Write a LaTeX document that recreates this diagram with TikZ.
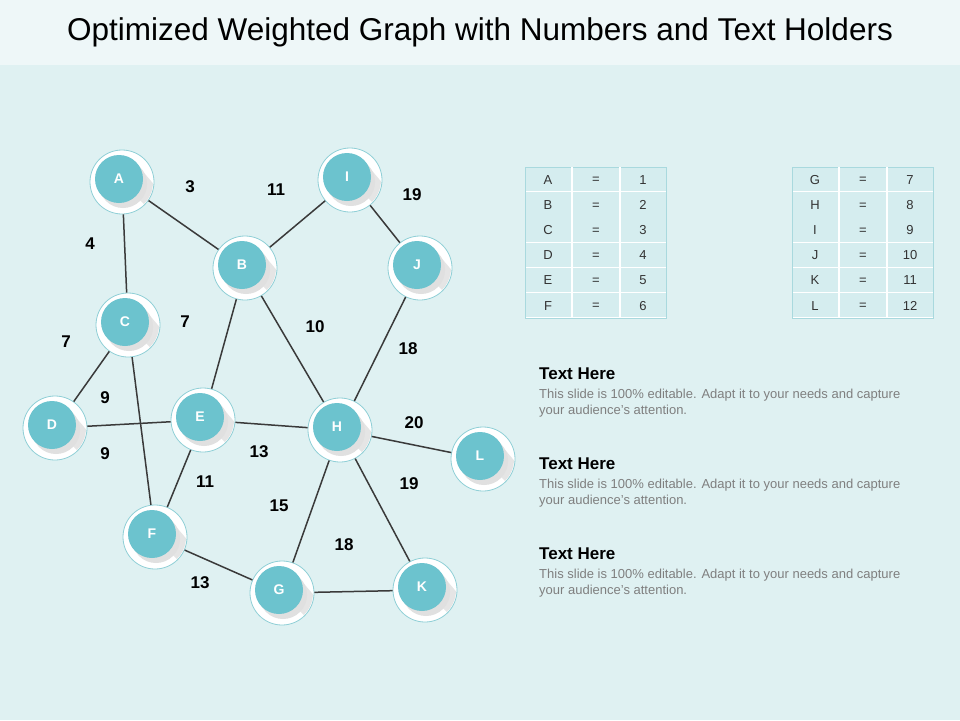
\documentclass[tikz,border=0pt]{standalone}
\usepackage{fontspec}
\setmainfont{Liberation Sans}
\definecolor{bg}{HTML}{DFF1F2}
\definecolor{titlebg}{HTML}{EEF7F8}
\definecolor{teal}{HTML}{6CC3CE}
\definecolor{ring}{HTML}{8FCFD6}
\definecolor{edge}{HTML}{3A3A3A}
\definecolor{tline}{HTML}{A9D9DE}
\definecolor{tfill}{HTML}{D5EDEF}
\definecolor{gtext}{HTML}{7F7F7F}
\begin{document}
\begin{tikzpicture}[x=1pt,y=-1pt,
  vert/.style={circle,draw=ring,fill=white,line width=0.8pt,minimum size=64pt,inner sep=0pt},
  lab/.style={font=\bfseries\fontsize{14}{16}\selectfont,text=white},
  wt/.style={font=\bfseries\fontsize{17}{19}\selectfont},
  con/.style={draw=edge,line width=1.5pt},
  cell/.style={font=\fontsize{13}{15}\selectfont,text=black!80}]
\fill[bg] (0,0) rectangle (960,720);
\fill[titlebg] (0,0) rectangle (960,65);
\node[font=\fontsize{31.5}{35}\selectfont] (title) at (480,32) {Optimized Weighted Graph with Numbers and Text Holders};
\foreach \n/\x/\y in {A/122/182,I/350/180,B/245/268,J/420/268,C/128/325,D/55/428,E/203/420,H/340/430,L/483/459,F/155/537,G/282/593,K/425/590}{
  \node[vert] (\n) at (\x,\y) {};
}
\foreach \a/\b in {A/B,A/C,B/I,I/J,B/E,B/H,J/H,C/D,C/F,D/E,E/H,H/L,E/F,H/G,H/K,F/G,G/K}{
  \draw[con] (\a) -- (\b);
}
\foreach \n/\x/\y in {A/122/182,I/350/180,B/245/268,J/420/268,C/128/325,D/55/428,E/203/420,H/340/430,L/483/459,F/155/537,G/282/593,K/425/590}{
  \begin{scope}
  \clip (\x,\y) circle (31);
  \fill[black!10] (\x+3,\y+3) -- (\x+32,\y+32) -- (\x+40,\y+12) -- (\x+18,\y-14) -- cycle;
  \fill[black!12] (\x+1,\y+2) circle (24);
  \end{scope}
  \fill[teal] (\x-3,\y-3) circle (24);
  \node[lab] (\n t) at (\x-3,\y-3) {\n};
}
\foreach \t/\x/\y in {3/190/187,11/276/190,19/412/195,4/90/244,7/185/322,10/315/327,7/66/342,18/408/349,9/105/398,20/414/423,9/105/454,13/259/452,11/205/482,19/409/484,15/279/506,18/344/545,13/200/583}{
  \node[wt] at (\x,\y) {\t};
}
% tables
\foreach \tx/\letters in {525/{A,B,C,D,E,F},792/{G,H,I,J,K,L}}{
  \foreach \l [count=\i] in \letters {
    \pgfmathsetmacro{\yy}{167+(\i-1)*25.2}
    \fill[tfill] (\tx,\yy) rectangle (\tx+141,\yy+25.2);
    \draw[white,line width=1.5pt] (\tx,\yy+25.2) -- (\tx+141,\yy+25.2);
  }
  \draw[tline] (\tx,167) rectangle (\tx+141,318.2);
  \draw[white,line width=1.5pt] (\tx+47,167) -- (\tx+47,318.2) (\tx+95,167) -- (\tx+95,318.2);
}
\foreach \l/\v [count=\i] in {A/1,B/2,C/3,D/4,E/5,F/6}{
  \node[cell] (ta\i) at (548,154.5+\i*25.2) {\l};
  \node[cell] at (596,155.5+\i*25.2) {=};
  \node[cell] at (643,154.5+\i*25.2) {\v};
}
\foreach \l/\v [count=\i] in {G/7,H/8,I/9,J/10,K/11,L/12}{
  \node[cell] (tb\i) at (815,154.5+\i*25.2) {\l};
  \node[cell] at (863,155.5+\i*25.2) {=};
  \node[cell] at (910,154.5+\i*25.2) {\v};
}
\foreach \y [count=\i] in {374,464,554}{
  \node[anchor=west,font=\bfseries\fontsize{17}{19}\selectfont,inner sep=0pt] (th\i) at (539,\y) {Text Here};
  \node[anchor=north west,align=left,text=gtext,font=\fontsize{13}{16}\selectfont,inner sep=0pt] (tb\i) at (539,\y+15) {This slide is 100\% editable. Adapt it to your needs and capture\\your audience's attention.};
}
\end{tikzpicture}
\end{document}
